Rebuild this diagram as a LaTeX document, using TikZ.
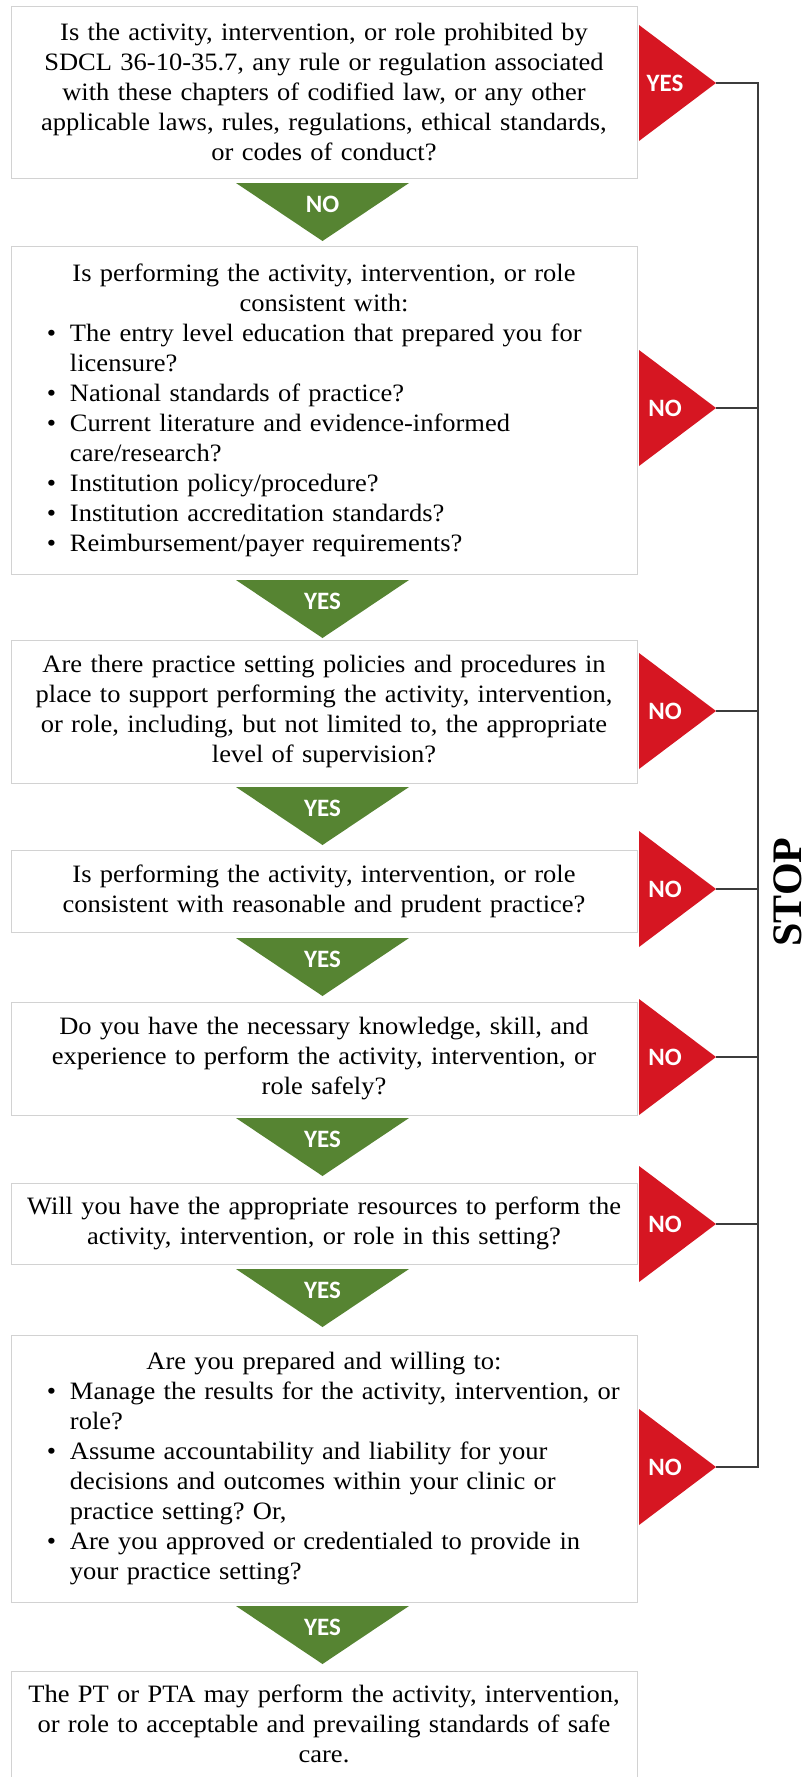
\documentclass[tikz,border=0pt]{standalone}
\usepackage{fontspec}
\setmainfont{Liberation Serif}
\newfontfamily\boxfont[FakeStretch=1.06]{Liberation Serif}
\newfontfamily\tagfont{Carlito}
\frenchspacing

\definecolor{yesgreen}{RGB}{86,132,50}
\definecolor{nored}{RGB}{214,22,34}
\definecolor{edgegray}{RGB}{210,210,210}
\definecolor{wire}{RGB}{60,60,60}

% one line of a box: centred, bullet item, continued item
\newcommand\cl[1]{\hbox to \hsize{\hss#1\hss}}
\newcommand\bl[1]{\hbox to \hsize{\hskip36pt\makebox[23pt][l]{\textbullet}#1\hss}}
\newcommand\il[1]{\hbox to \hsize{\hskip59pt #1\hss}}

\tikzset{
  qbox/.style={draw=edgegray, line width=0.8pt, fill=white, minimum width=626pt,
    text width=626pt, inner sep=0pt, font=\boxfont\fontsize{25}{30}\selectfont},
  tag/.style={text=white, font=\tagfont\bfseries\fontsize{25}{25}\selectfont, inner sep=0pt},
  conn/.style={draw=wire, line width=1.2pt},
  gtri/.style={fill=yesgreen},
  rtri/.style={fill=nored},
}

% green downward pointer between two boxes: name, top y, label
\newcommand\gdown[3]{%
  \fill[gtri] (236,#2) -- (409,#2) -- (322.5,#2+58) -- cycle;
  \node[tag] (#1) at (322.5,#2+21) {#3};}
% red pointer to the right of a box: name, tip y, label
\newcommand\rright[3]{%
  \fill[rtri] (639,#2-58) -- (716,#2) -- (639,#2+58) -- cycle;
  \coordinate (#1tip) at (716,#2);
  \node[tag] (#1) at (665,#2) {#3};}

\begin{document}
\begin{tikzpicture}[x=1pt,y=-1pt]
\fill[white] (0,0) rectangle (809,1777);
\useasboundingbox (0,0) rectangle (809,1777);

\node[qbox, minimum height=172pt] (q1) at (324,92) {%
  \cl{Is the activity, intervention, or role prohibited by}
  \cl{SDCL 36-10-35.7, any rule or regulation associated}
  \cl{with these chapters of codified law, or any other}
  \cl{applicable laws, rules, regulations, ethical standards,}
  \cl{or codes of conduct?}};

\node[qbox, minimum height=328pt] (q2) at (324,410) {%
  \cl{Is performing the activity, intervention, or role}
  \cl{consistent with:}
  \bl{The entry level education that prepared you for}
  \il{licensure?}
  \bl{National standards of practice?}
  \bl{Current literature and evidence-informed}
  \il{care/research?}
  \bl{Institution policy/procedure?}
  \bl{Institution accreditation standards?}
  \bl{Reimbursement/payer requirements?}};

\node[qbox, minimum height=143pt] (q3) at (324,711.5) {%
  \cl{Are there practice setting policies and procedures in}
  \cl{place to support performing the activity, intervention,}
  \cl{or role, including, but not limited to, the appropriate}
  \cl{level of supervision?}};

\node[qbox, minimum height=82pt] (q4) at (324,891) {%
  \cl{Is performing the activity, intervention, or role}
  \cl{consistent with reasonable and prudent practice?}};

\node[qbox, minimum height=113pt] (q5) at (324,1058.5) {%
  \cl{Do you have the necessary knowledge, skill, and}
  \cl{experience to perform the activity, intervention, or}
  \cl{role safely?}};

\node[qbox, minimum height=81pt] (q6) at (324,1223.5) {%
  \cl{Will you have the appropriate resources to perform the}
  \cl{activity, intervention, or role in this setting?}};

\node[qbox, minimum height=267pt] (q7) at (324,1468.5) {%
  \cl{Are you prepared and willing to:}
  \bl{Manage the results for the activity, intervention, or}
  \il{role?}
  \bl{Assume accountability and liability for your}
  \il{decisions and outcomes within your clinic or}
  \il{practice setting? Or,}
  \bl{Are you approved or credentialed to provide in}
  \il{your practice setting?}};

\node[qbox, minimum height=106pt] (q8) at (324,1724) {%
  \cl{The PT or PTA may perform the activity, intervention,}
  \cl{or role to acceptable and prevailing standards of safe}
  \cl{care.}};

% answers leading on to the next question
\gdown{g1}{183}{NO}
\gdown{g2}{580}{YES}
\gdown{g3}{787}{YES}
\gdown{g4}{938}{YES}
\gdown{g5}{1118}{YES}
\gdown{g6}{1269}{YES}
\gdown{g7}{1606}{YES}

% answers leading to STOP
\rright{r1}{83}{YES}
\rright{r2}{408}{NO}
\rright{r3}{711}{NO}
\rright{r4}{889}{NO}
\rright{r5}{1057}{NO}
\rright{r6}{1224}{NO}
\rright{r7}{1467}{NO}

\coordinate (top) at (758,83);
\coordinate (bot) at (758,1467);
\draw[conn] (r1tip) -- (top) -- (bot) -- (r7tip);
\foreach \n in {2,...,6} \draw[conn] (r\n tip) -- (r\n tip -| top);

\node[font=\bfseries\fontsize{42}{42}\selectfont, rotate=90] (stop) at (788,892) {STOP};
\end{tikzpicture}
\end{document}
